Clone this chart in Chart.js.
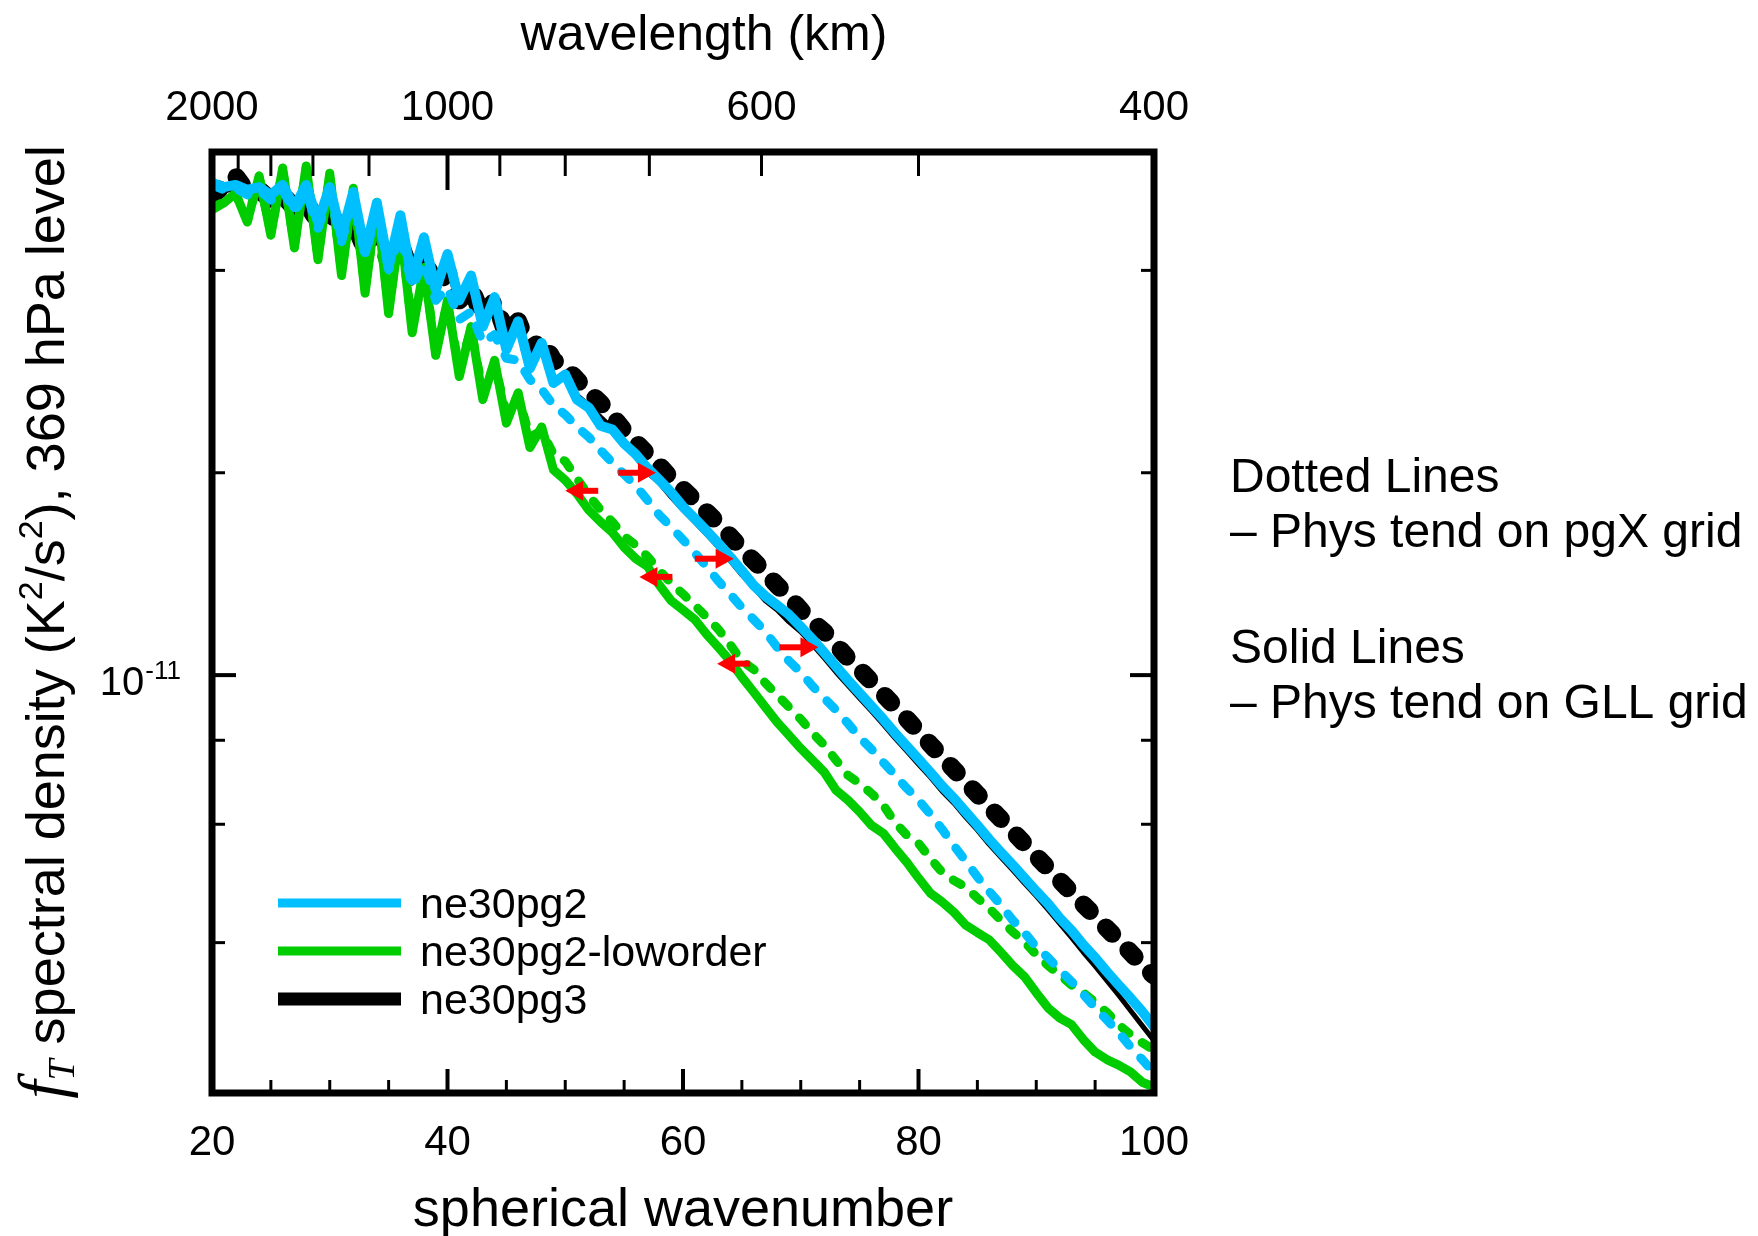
<!DOCTYPE html>
<html>
<head>
<meta charset="utf-8">
<script src="https://cdn.jsdelivr.net/npm/chart.js@4.4.0/dist/chart.umd.min.js"></script>
<style>
  html, body { margin: 0; padding: 0; background: #fff; }
</style>
</head>
<body>
<canvas id="chart" width="1758" height="1236"></canvas>
<script>
// spherical wavenumber
const wavenumber = [
  20, 21, 22, 23, 24, 25, 26, 27, 28, 29,
  30, 31, 32, 33, 34, 35, 36, 37, 38, 39,
  40, 41, 42, 43, 44, 45, 46, 47, 48, 49,
  50, 51, 52, 53, 54, 55, 56, 57, 58, 59,
  60, 61, 62, 63, 64, 65, 66, 67, 68, 69,
  70, 71, 72, 73, 74, 75, 76, 77, 78, 79,
  80, 81, 82, 83, 84, 85, 86, 87, 88, 89,
  90, 91, 92, 93, 94, 95, 96, 97, 98, 99,
  100
];

// f_T spectral density, read in units of 1e-11 K^2/s^2
const UNIT = 1e-11;

// ne30pg2, solid = phys tend on GLL grid, dotted = on pgX grid
const pg2Gll = [
  5.40, 5.32, 5.36, 5.27, 5.32, 5.18, 5.36, 4.97, 5.36, 4.72,
  5.32, 4.50, 5.23, 4.26, 5.04, 4.05, 4.83, 3.87, 4.48, 3.74,
  4.23, 3.61, 3.93, 3.30, 3.65, 3.05, 3.36, 2.86, 3.12, 2.72,
  2.80, 2.57, 2.50, 2.35, 2.32, 2.21, 2.13, 2.03, 1.95, 1.87,
  1.78, 1.71, 1.64, 1.57, 1.50, 1.43, 1.36, 1.31, 1.27, 1.23,
  1.18, 1.13, 1.08, 1.03, 0.983, 0.940, 0.899, 0.860, 0.820, 0.784,
  0.750, 0.717, 0.684, 0.656, 0.626, 0.598, 0.570, 0.545, 0.522, 0.499,
  0.477, 0.457, 0.435, 0.417, 0.397, 0.380, 0.362, 0.346, 0.331, 0.316,
  0.300
];
const pg2Pgx = [
  5.36, 5.27, 5.30, 5.18, 5.27, 5.09, 5.27, 4.89, 5.23, 4.62,
  5.18, 4.41, 5.09, 4.21, 4.89, 4.01, 4.56, 3.78, 4.12, 3.61,
  3.77, 3.38, 3.47, 3.12, 3.21, 2.96, 2.94, 2.75, 2.66, 2.52,
  2.44, 2.34, 2.26, 2.16, 2.07, 1.99, 1.91, 1.82, 1.73, 1.66,
  1.59, 1.52, 1.45, 1.38, 1.32, 1.26, 1.21, 1.16, 1.10, 1.05,
  1.01, 0.963, 0.924, 0.887, 0.848, 0.808, 0.776, 0.742, 0.710, 0.679,
  0.652, 0.621, 0.590, 0.558, 0.529, 0.501, 0.477, 0.455, 0.432, 0.414,
  0.394, 0.380, 0.364, 0.350, 0.335, 0.320, 0.307, 0.294, 0.280, 0.268,
  0.256
];

// ne30pg2-loworder
const lowGll = [
  4.92, 5.04, 5.21, 4.72, 5.53, 4.51, 5.68, 4.32, 5.72, 4.15,
  5.58, 3.93, 5.30, 3.70, 5.05, 3.45, 4.67, 3.23, 4.04, 2.99,
  3.61, 2.78, 3.30, 2.57, 2.94, 2.37, 2.63, 2.18, 2.34, 2.02,
  1.95, 1.86, 1.76, 1.69, 1.63, 1.55, 1.49, 1.45, 1.36, 1.29,
  1.25, 1.21, 1.15, 1.10, 1.05, 0.993, 0.944, 0.896, 0.851, 0.814,
  0.778, 0.747, 0.717, 0.674, 0.652, 0.626, 0.598, 0.582, 0.553, 0.527,
  0.499, 0.474, 0.460, 0.444, 0.425, 0.414, 0.404, 0.387, 0.370, 0.356,
  0.337, 0.320, 0.309, 0.302, 0.287, 0.275, 0.268, 0.263, 0.257, 0.248,
  0.244
];
const lowPgx = [
  4.95, 5.06, 5.20, 4.75, 5.50, 4.55, 5.64, 4.36, 5.68, 4.20,
  5.52, 3.98, 5.24, 3.76, 4.98, 3.52, 4.60, 3.30, 3.98, 3.06,
  3.56, 2.86, 3.26, 2.64, 2.90, 2.45, 2.60, 2.26, 2.31, 2.13,
  2.08, 1.96, 1.85, 1.76, 1.69, 1.61, 1.56, 1.50, 1.43, 1.37,
  1.32, 1.27, 1.22, 1.17, 1.11, 1.05, 1.02, 0.973, 0.934, 0.896,
  0.860, 0.820, 0.787, 0.747, 0.710, 0.690, 0.667, 0.641, 0.604, 0.578,
  0.562, 0.534, 0.509, 0.495, 0.484, 0.466, 0.450, 0.432, 0.415, 0.401,
  0.384, 0.370, 0.358, 0.346, 0.337, 0.326, 0.315, 0.302, 0.292, 0.284,
  0.277
];

// ne30pg3
const pg3Gll = [
  5.14, 5.25, 5.30, 5.16, 5.23, 5.00, 5.14, 4.87, 5.04, 4.62,
  4.92, 4.44, 4.78, 4.23, 4.62, 4.04, 4.44, 3.83, 4.22, 3.69,
  4.04, 3.54, 3.80, 3.28, 3.55, 3.05, 3.30, 2.89, 3.10, 2.72,
  2.82, 2.61, 2.52, 2.42, 2.33, 2.22, 2.11, 2.00, 1.93, 1.84,
  1.76, 1.69, 1.62, 1.55, 1.48, 1.41, 1.35, 1.29, 1.25, 1.20,
  1.16, 1.11, 1.06, 1.01, 0.966, 0.924, 0.884, 0.845, 0.806, 0.771,
  0.737, 0.705, 0.672, 0.645, 0.615, 0.588, 0.560, 0.536, 0.513, 0.490,
  0.469, 0.448, 0.427, 0.407, 0.387, 0.369, 0.351, 0.334, 0.317, 0.301,
  0.286
];
const pg3Pgx = [
  5.18, 5.34, 5.53, 5.23, 5.27, 5.09, 5.18, 4.95, 5.05, 4.72,
  4.92, 4.51, 4.75, 4.29, 4.56, 4.12, 4.38, 3.93, 4.18, 3.77,
  3.98, 3.61, 3.77, 3.40, 3.61, 3.21, 3.36, 3.05, 3.15, 2.94,
  2.87, 2.75, 2.64, 2.54, 2.43, 2.31, 2.22, 2.13, 2.05, 1.96,
  1.89, 1.82, 1.75, 1.68, 1.61, 1.54, 1.48, 1.42, 1.36, 1.31,
  1.25, 1.20, 1.16, 1.11, 1.06, 1.02, 0.978, 0.937, 0.898, 0.861,
  0.824, 0.789, 0.756, 0.724, 0.694, 0.665, 0.637, 0.611, 0.586, 0.561,
  0.538, 0.516, 0.495, 0.475, 0.456, 0.438, 0.420, 0.403, 0.387, 0.371,
  0.357
];

// red arrows: pgX -> GLL shift (wavenumber from, to, at level)
const arrowFrom  = [54.5, 52.8, 61.0, 59.1, 68.2, 65.7];
const arrowTo    = [57.7, 50.0, 64.3, 56.3, 71.5, 62.9];
const arrowLevel = [2.0e-11, 1.88e-11, 1.49e-11, 1.40e-11, 1.10e-11, 1.04e-11];

// axis ticks
const xMajor = [20, 40, 60, 80, 100];
const xMinor = [25, 30, 35, 45, 50, 55, 65, 70, 75, 85, 90, 95];
const yMajor = [1e-11];
const yMinor = [4e-12, 6e-12, 8e-12, 2e-11, 4e-11];
const wlLabels = [2000, 1000, 600, 400];
const wlMajor = [1000];
const wlMinor = [1800, 1600, 1400, 1200, 900, 800, 700, 600, 500];
const EARTH_CIRC = 40000; // km, wavelength = circumference / wavenumber

const legendNames = ['ne30pg2', 'ne30pg2-loworder', 'ne30pg3'];
const BLUE = '#00BFFF';
const GREEN = '#00CC00';
const BLACK = '#000000';

const SANS = '"Liberation Sans", Arial, Helvetica, sans-serif';
const SERIF = '"Liberation Serif", "DejaVu Serif", serif';

function series(values, color, width, dash) {
  return {
    data: wavenumber.map((n, i) => ({ x: n, y: values[i] * UNIT })),
    borderColor: color,
    borderWidth: width,
    borderDash: dash || [],
    borderCapStyle: 'round',
    borderJoinStyle: 'round',
    pointRadius: 0,
    fill: false,
    tension: 0
  };
}

function richText(ctx, parts, cx, baseY) {
  let total = 0;
  parts.forEach(p => { ctx.font = p.font; p.w = ctx.measureText(p.text).width; total += p.w; });
  let xx = cx - total / 2;
  parts.forEach(p => {
    ctx.font = p.font;
    ctx.fillText(p.text, xx, baseY + (p.dy || 0));
    xx += p.w;
  });
}

const decor = {
  id: 'decor',
  afterDatasetsDraw(chart) {
    const { ctx, chartArea: a, scales: { x, y } } = chart;
    ctx.save();

    // arrows
    ctx.fillStyle = '#ff0000';
    ctx.strokeStyle = '#ff0000';
    ctx.lineWidth = 6;
    arrowFrom.forEach((n0, i) => {
      const x0 = x.getPixelForValue(n0);
      const x1 = x.getPixelForValue(arrowTo[i]);
      const yy = y.getPixelForValue(arrowLevel[i]);
      const dir = Math.sign(x1 - x0);
      ctx.beginPath();
      ctx.moveTo(x0, yy);
      ctx.lineTo(x1 - dir * 14, yy);
      ctx.stroke();
      ctx.beginPath();
      ctx.moveTo(x1, yy);
      ctx.lineTo(x1 - dir * 18, yy - 10);
      ctx.lineTo(x1 - dir * 18, yy + 10);
      ctx.closePath();
      ctx.fill();
    });

    // frame
    ctx.strokeStyle = '#000';
    ctx.lineJoin = 'miter';
    ctx.lineWidth = 7;
    ctx.strokeRect(a.left, a.top, a.right - a.left, a.bottom - a.top);

    const tick = (x0, y0, x1, y1, w) => {
      ctx.lineWidth = w;
      ctx.beginPath();
      ctx.moveTo(x0, y0);
      ctx.lineTo(x1, y1);
      ctx.stroke();
    };
    // bottom
    xMajor.forEach(v => { const p = x.getPixelForValue(v); tick(p, a.bottom, p, a.bottom - 24, 4); });
    xMinor.forEach(v => { const p = x.getPixelForValue(v); tick(p, a.bottom, p, a.bottom - 13, 3); });
    // top (wavelength)
    wlMajor.forEach(v => { const p = x.getPixelForValue(EARTH_CIRC / v); tick(p, a.top, p, a.top + 38, 4); });
    wlMinor.forEach(v => { const p = x.getPixelForValue(EARTH_CIRC / v); tick(p, a.top, p, a.top + 24, 3); });
    // left / right
    yMajor.forEach(v => {
      const p = y.getPixelForValue(v);
      tick(a.left, p, a.left + 24, p, 4);
      tick(a.right, p, a.right - 24, p, 4);
    });
    yMinor.forEach(v => {
      const p = y.getPixelForValue(v);
      tick(a.left, p, a.left + 13, p, 3);
      tick(a.right, p, a.right - 13, p, 3);
    });
    ctx.restore();
  },
  afterDraw(chart) {
    const { ctx, chartArea: a, scales: { x, y } } = chart;
    ctx.save();
    ctx.fillStyle = '#000';
    ctx.textBaseline = 'alphabetic';

    // bottom tick labels
    ctx.textAlign = 'center';
    ctx.font = '42px ' + SANS;
    xMajor.forEach(v => ctx.fillText(String(v), x.getPixelForValue(v), a.bottom + 62));
    // top tick labels
    wlLabels.forEach(v => ctx.fillText(String(v), x.getPixelForValue(EARTH_CIRC / v), a.top - 32));

    // axis titles
    ctx.font = '54px ' + SANS;
    ctx.fillText('spherical wavenumber', (a.left + a.right) / 2, 1226);
    ctx.font = '50px ' + SANS;
    ctx.fillText('wavelength (km)', 704, 50);

    // y tick label 10^-11
    ctx.textAlign = 'left';
    const py = y.getPixelForValue(yMajor[0]);
    ctx.font = '40px ' + SANS;
    const w10 = ctx.measureText('10').width;
    ctx.font = '26px ' + SANS;
    const wExp = ctx.measureText('-11').width;
    const lx = a.left - 32 - w10 - wExp;
    ctx.font = '40px ' + SANS;
    ctx.fillText('10', lx, py + 20);
    ctx.font = '26px ' + SANS;
    ctx.fillText('-11', lx + w10 + 1, py + 4);

    // y axis title (rotated)
    ctx.save();
    ctx.translate(64, 622);
    ctx.rotate(-Math.PI / 2);
    const f = '54px ' + SANS, fs = '34px ' + SANS;
    richText(ctx, [
      { text: 'f', font: 'italic 66px ' + SERIF, dy: 0 },
      { text: 'T', font: 'italic 38px ' + SERIF, dy: 10 },
      { text: ' spectral density (K', font: f },
      { text: '2', font: fs, dy: -22 },
      { text: '/s', font: f },
      { text: '2', font: fs, dy: -22 },
      { text: '), 369 hPa level', font: f }
    ], 0, 0);
    ctx.restore();

    // legend
    const legColors = [BLUE, GREEN, BLACK];
    const legWidths = [9, 9, 13];
    ctx.lineCap = 'butt';
    legendNames.forEach((name, i) => {
      const ly = 903 + i * 48;
      ctx.strokeStyle = legColors[i];
      ctx.lineWidth = legWidths[i];
      ctx.beginPath();
      ctx.moveTo(278, ly);
      ctx.lineTo(401, ly);
      ctx.stroke();
      ctx.font = '43px ' + SANS;
      ctx.fillText(name, 420, ly + 15);
    });

    // notes on the right
    ctx.font = '48px ' + SANS;
    ctx.fillText('Dotted Lines', 1230, 492);
    ctx.fillText('\u2013 Phys tend on pgX grid', 1230, 547);
    ctx.fillText('Solid Lines', 1230, 663);
    ctx.fillText('\u2013 Phys tend on GLL grid', 1230, 718);
    ctx.restore();
  }
};

new Chart(document.getElementById('chart').getContext('2d'), {
  type: 'line',
  data: {
    datasets: [
      series(pg2Gll, BLUE, 10),
      series(pg2Pgx, BLUE, 9, [11, 17]),
      series(lowGll, GREEN, 9),
      series(lowPgx, GREEN, 9, [9, 16]),
      series(pg3Gll, BLACK, 5),
      series(pg3Pgx, BLACK, 18, [9, 23])
    ]
  },
  options: {
    responsive: false,
    animation: false,
    events: [],
    layout: { padding: { left: 212, top: 152, right: 604, bottom: 143 } },
    scales: {
      x: { type: 'linear', min: 20, max: 100, display: false },
      y: { type: 'logarithmic', min: 2.39e-12, max: 6.0e-11, display: false }
    },
    plugins: {
      legend: { display: false },
      tooltip: { enabled: false }
    }
  },
  plugins: [decor]
});
</script>
</body>
</html>
